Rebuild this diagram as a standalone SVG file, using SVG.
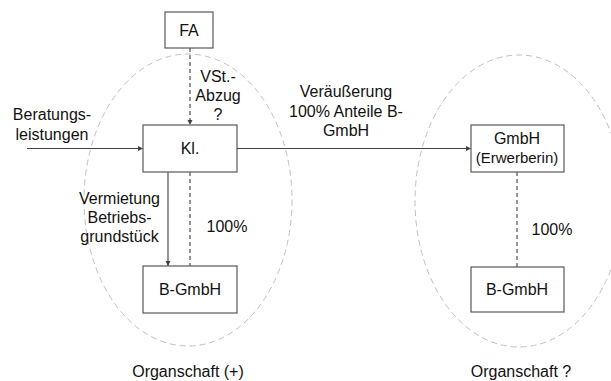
<svg xmlns="http://www.w3.org/2000/svg" width="611" height="381" viewBox="0 0 611 381">
<style>
text{font-family:"Liberation Sans",Arial,sans-serif;font-size:16px;fill:#111;text-anchor:middle}
.box{fill:#fff;stroke:#595959;stroke-width:1.2}
.ell{fill:none;stroke:#bfbfbf;stroke-width:1;stroke-dasharray:6 4}
.ln{stroke:#404040;stroke-width:1.1;fill:none}
.dash{stroke-dasharray:4 3}
.small{font-size:15px}
</style>
<defs>
<marker id="ah" markerWidth="6" markerHeight="6" refX="5" refY="3" orient="auto" markerUnits="userSpaceOnUse">
<path d="M0,0.5 L5,3 L0,5.5 Z" fill="#404040"/>
</marker>
</defs>
<g id="ellipses">
<ellipse class="ell" cx="188" cy="200" rx="104" ry="146"/>
<ellipse class="ell" cx="519" cy="201" rx="104" ry="146"/>
</g>
<g id="connectors">
<line class="ln dash" x1="190" y1="48" x2="190" y2="125" marker-end="url(#ah)"/>
<line class="ln" x1="27" y1="148.5" x2="143" y2="148.5" marker-end="url(#ah)"/>
<line class="ln" x1="237" y1="148.5" x2="471" y2="148.5" marker-end="url(#ah)"/>
<line class="ln" x1="168" y1="172" x2="168" y2="266" marker-end="url(#ah)"/>
<line class="ln dash" x1="190" y1="172" x2="190" y2="266"/>
<line class="ln dash" x1="517" y1="172" x2="517" y2="267"/>
</g>
<g id="FA"><rect class="box" x="165" y="12" width="48" height="36"/><text x="189" y="36">FA</text></g>
<g id="Kl"><rect class="box" x="143" y="125" width="94" height="47"/><text x="190" y="154">Kl.</text></g>
<g id="BGmbH1"><rect class="box" x="143" y="266" width="94" height="47"/><text x="190" y="295">B-GmbH</text></g>
<g id="GmbH"><rect class="box" x="471" y="125" width="93" height="47"/><text x="517" y="144">GmbH</text><text class="small" x="517" y="163">(Erwerberin)</text></g>
<g id="BGmbH2"><rect class="box" x="471" y="267" width="93" height="45"/><text x="517" y="295">B-GmbH</text></g>
<g id="labels">
<text x="218" y="82">VSt.-</text>
<text x="218" y="101">Abzug</text>
<text x="218" y="120">?</text>
<text x="52" y="120">Beratungs-</text>
<text x="52" y="140">leistungen</text>
<text x="346" y="97">Veräußerung</text>
<text x="346" y="117">100% Anteile B-</text>
<text x="346" y="136">GmbH</text>
<text x="119.5" y="204">Vermietung</text>
<text x="119.5" y="223">Betriebs-</text>
<text x="119.5" y="242">grundstück</text>
<text x="227" y="232">100%</text>
<text x="552" y="235">100%</text>
<text x="188" y="377">Organschaft (+)</text>
<text x="521" y="377">Organschaft ?</text>
</g>
</svg>
